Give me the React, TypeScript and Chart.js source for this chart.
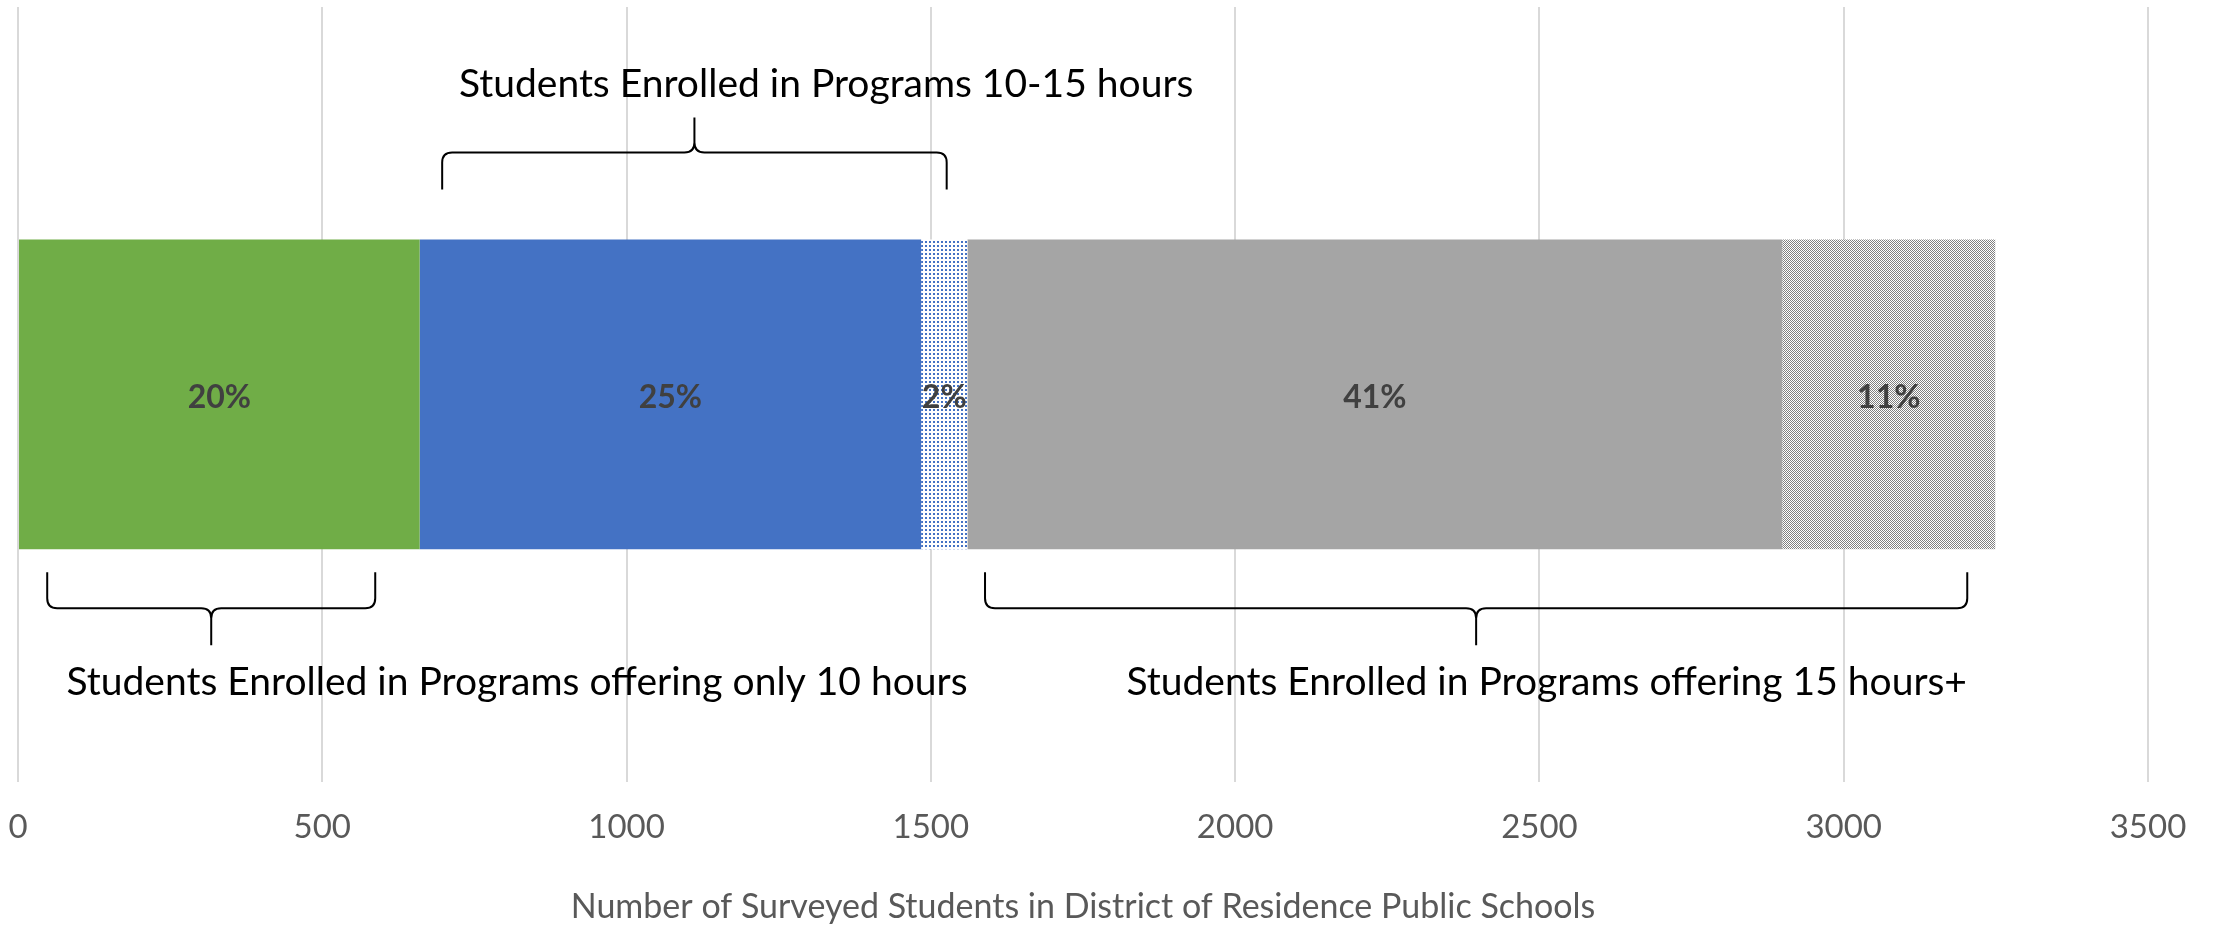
import React, { useEffect, useRef } from "react";
import { Chart, registerables } from "chart.js";

Chart.register(...registerables);

// ---- data ----
const categories = [""];
const seriesNames = [
  "Programs offering only 10 hours",
  "Programs 10-15 hours",
  "Programs 10-15 hours (part)",
  "Programs offering 15 hours+",
  "Programs offering 15 hours+ (part)",
];
const seriesValues = [660, 824, 76, 1339, 350];
const pctLabels = ["20%", "25%", "2%", "41%", "11%"];
const xTicksMin = 0;
const xTicksMax = 3500;
const xTickStep = 500;
const axisTitle = "Number of Surveyed Students in District of Residence Public Schools";

// Brace annotations (data-x extents)
const braceTexts = [
  "Students Enrolled in Programs 10-15 hours",
  "Students Enrolled in Programs offering only 10 hours",
  "Students Enrolled in Programs offering 15 hours+",
];
const braceStart = [697, 48, 1589];
const braceEnd = [1526, 587, 3203];
const braceTextX = [1328, 820, 2512];
const braceSide = ["top", "bottom", "bottom"];

function makeDotPattern(color: string) {
  const c = document.createElement("canvas");
  c.width = 4;
  c.height = 4;
  const g = c.getContext("2d")!;
  g.fillStyle = "#ffffff";
  g.fillRect(0, 0, 4, 4);
  g.fillStyle = color;
  g.fillRect(1, 1, 2, 2);
  const ctx = document.createElement("canvas").getContext("2d")!;
  return ctx.createPattern(c, "repeat")!;
}

function makeCheckerPattern(color: string) {
  const c = document.createElement("canvas");
  c.width = 2;
  c.height = 2;
  const g = c.getContext("2d")!;
  g.fillStyle = "#ffffff";
  g.fillRect(0, 0, 2, 2);
  g.fillStyle = color;
  g.fillRect(0, 0, 1, 1);
  g.fillRect(1, 1, 1, 1);
  const ctx = document.createElement("canvas").getContext("2d")!;
  return ctx.createPattern(c, "repeat")!;
}

function drawBrace(
  ctx: CanvasRenderingContext2D,
  x1: number,
  x2: number,
  xm: number,
  yTip: number,
  yBar: number,
  yPeak: number,
  r: number
) {
  const d = Math.sign(yPeak - yTip);
  ctx.beginPath();
  ctx.moveTo(x1, yTip);
  ctx.lineTo(x1, yBar - d * r);
  ctx.quadraticCurveTo(x1, yBar, x1 + r, yBar);
  ctx.lineTo(xm - r, yBar);
  ctx.quadraticCurveTo(xm, yBar, xm, yBar + d * r);
  ctx.lineTo(xm, yPeak);
  ctx.moveTo(xm, yBar + d * r);
  ctx.quadraticCurveTo(xm, yBar, xm + r, yBar);
  ctx.lineTo(x2 - r, yBar);
  ctx.quadraticCurveTo(x2, yBar, x2, yBar - d * r);
  ctx.lineTo(x2, yTip);
  ctx.stroke();
}

const annotationPlugin = {
  id: "annotations",
  afterDatasetsDraw(chart: any) {
    const ctx: CanvasRenderingContext2D = chart.ctx;
    const xs = chart.scales.x;
    // data labels
    ctx.save();
    ctx.font = "bold 32px Lato";
    ctx.fillStyle = "#404040";
    ctx.textAlign = "center";
    ctx.textBaseline = "middle";
    let barTop = 0;
    let barBottom = 0;
    chart.data.datasets.forEach((ds: any, i: number) => {
      const el = chart.getDatasetMeta(i).data[0] as any;
      const cx = (el.x + el.base) / 2;
      barTop = el.y - el.height / 2;
      barBottom = el.y + el.height / 2;
      ctx.fillText(pctLabels[i], cx, el.y + 3);
    });
    ctx.restore();

    // braces
    ctx.save();
    ctx.strokeStyle = "#000000";
    ctx.lineWidth = 2;
    ctx.fillStyle = "#000000";
    ctx.font = "39px Lato";
    ctx.textAlign = "center";
    ctx.textBaseline = "middle";
    braceTexts.forEach((txt, i) => {
      const x1 = xs.getPixelForValue(braceStart[i]);
      const x2 = xs.getPixelForValue(braceEnd[i]);
      const xm = (x1 + x2) / 2;
      const tx = xs.getPixelForValue(braceTextX[i]);
      if (braceSide[i] === "top") {
        drawBrace(ctx, x1, x2, xm, barTop - 50, barTop - 87, barTop - 122, 10);
        ctx.fillText(txt, tx, barTop - 155);
      } else {
        drawBrace(ctx, x1, x2, xm, barBottom + 23, barBottom + 59, barBottom + 96, 10);
        ctx.fillText(txt, tx, barBottom + 133);
      }
    });
    ctx.restore();
  },
};

export default function App() {
  const ref = useRef<HTMLCanvasElement | null>(null);
  useEffect(() => {
    document.body.style.margin = "0";
    document.body.style.overflow = "hidden";
    const canvas = ref.current!;
    const colors = [
      "#70AD47",
      "#4472C4",
      makeDotPattern("#4472C4"),
      "#A5A5A5",
      makeCheckerPattern("#808080"),
    ];
    const chart = new Chart(canvas, {
      type: "bar",
      data: {
        labels: categories,
        datasets: seriesValues.map((v, i) => ({
          label: seriesNames[i],
          data: [v],
          backgroundColor: colors[i] as any,
          borderWidth: 0,
          categoryPercentage: 1,
          barPercentage: 0.4,
        })),
      },
      options: {
        indexAxis: "y",
        responsive: false,
        animation: false,
        layout: { padding: { left: 18, right: 65, top: 7, bottom: 0 } },
        plugins: {
          legend: { display: false },
          tooltip: { enabled: false },
        },
        scales: {
          x: {
            stacked: true,
            min: xTicksMin,
            max: xTicksMax,
            ticks: {
              stepSize: xTickStep,
              color: "#595959",
              font: { family: "Lato", size: 33 },
              padding: 0,
              callback: (v: any) => String(v),
            },
            grid: {
              color: "#d9d9d9",
              lineWidth: 2,
              drawTicks: true,
              tickLength: 26,
              tickColor: "rgba(0,0,0,0)",
            },
            border: { display: false },
            title: {
              display: true,
              text: axisTitle,
              color: "#595959",
              font: { family: "Lato", size: 34 },
              padding: { top: 39, bottom: 2 },
            },
          },
          y: {
            stacked: true,
            display: false,
          },
        },
      },
      plugins: [annotationPlugin],
    });
    return () => chart.destroy();
  }, []);
  return <canvas ref={ref} width={2213} height={929} style={{ display: "block" }} />;
}
